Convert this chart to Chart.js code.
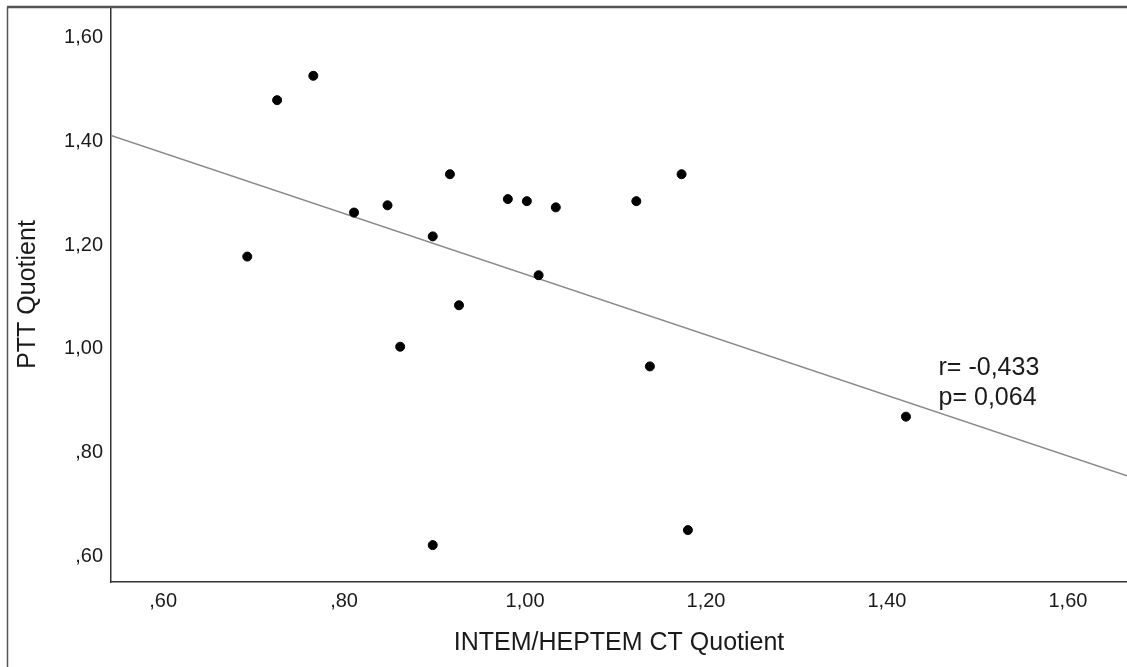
<!DOCTYPE html>
<html>
<head>
<meta charset="utf-8">
<script src="https://cdn.jsdelivr.net/npm/chart.js@4"></script>
<style>
  html, body { margin: 0; padding: 0; background: #fff; }
  #wrap { width: 1127px; height: 667px; position: relative; }
</style>
</head>
<body>
<div id="wrap"><canvas id="chart"></canvas></div>
<script>
// ── Data ──────────────────────────────────────────────
const intemHeptem = [0.693, 0.726, 0.766, 0.811, 0.848, 0.862, 0.898, 0.917, 0.927, 0.898,
                     0.981, 1.002, 1.015, 1.034, 1.123, 1.138, 1.173, 1.180, 1.421];
const pttQuotient = [1.178, 1.480, 1.527, 1.263, 1.277, 1.004, 1.217, 1.337, 1.084, 0.621,
                     1.289, 1.285, 1.142, 1.273, 1.285, 0.966, 1.337, 0.650, 0.869];
// fitted line, end points at the plot edges
const fitX = [0.5424, 1.6653];
const fitY = [1.412, 0.755];
const xTicks = [0.6, 0.8, 1.0, 1.2, 1.4, 1.6];
const yTicks = [0.6, 0.8, 1.0, 1.2, 1.4, 1.6];
const statLines = ["r= -0,433", "p= 0,064"];

const FONT = "'Liberation Sans', Arial, sans-serif";
const INK = "#1a1a1a";

// SPSS style: ",60" below one, "1,20" above
const fmt = v => {
  const s = v.toFixed(2).replace(".", ",");
  return s.startsWith("0") ? s.slice(1) : s;
};

// outer frame + r/p text
const extras = {
  id: "extras",
  afterDraw(chart) {
    const { ctx, scales: { x, y } } = chart;
    ctx.save();
    ctx.strokeStyle = "#555";
    ctx.lineWidth = 1.5;
    ctx.beginPath();
    ctx.moveTo(7.5, 7);
    ctx.lineTo(7.5, chart.height);
    ctx.stroke();
    ctx.lineWidth = 2.5;
    ctx.beginPath();
    ctx.moveTo(7, 7);
    ctx.lineTo(chart.width, 7);
    ctx.stroke();

    ctx.fillStyle = INK;
    ctx.font = "25px " + FONT;
    ctx.textAlign = "left";
    ctx.textBaseline = "alphabetic";
    const tx = x.getPixelForValue(1.457);
    ctx.fillText(statLines[0], tx, y.getPixelForValue(0.949));
    ctx.fillText(statLines[1], tx, y.getPixelForValue(0.891));
    ctx.restore();
  }
};

new Chart(document.getElementById("chart"), {
  type: "scatter",
  data: {
    datasets: [
      {
        label: "Fit",
        type: "line",
        data: fitX.map((v, i) => ({ x: v, y: fitY[i] })),
        borderColor: "#8a8a8a",
        borderWidth: 1.5,
        pointRadius: 0,
        fill: false,
        order: 2
      },
      {
        label: "Cases",
        data: intemHeptem.map((v, i) => ({ x: v, y: pttQuotient[i] })),
        backgroundColor: "#000",
        borderColor: "#000",
        pointRadius: 4.5,
        order: 1
      }
    ]
  },
  options: {
    responsive: true,
    maintainAspectRatio: false,
    animation: false,
    layout: { autoPadding: false, padding: { top: 7, right: 0, left: 0, bottom: 0 } },
    plugins: { legend: { display: false }, tooltip: { enabled: false } },
    scales: {
      x: {
        type: "linear",
        min: 0.5424, max: 1.6653,
        grid: { display: false, drawTicks: false },
        border: { display: true, color: "#333", width: 1.5 },
        afterBuildTicks: s => { s.ticks = xTicks.map(v => ({ value: v })); },
        afterFit: s => { s.height = 85; s.paddingLeft = 0; s.paddingRight = 0; },
        ticks: { color: INK, font: { family: FONT, size: 20 }, padding: 7, callback: fmt },
        title: { display: true, text: "INTEM/HEPTEM CT Quotient", color: INK,
                 font: { family: FONT, size: 25 }, padding: { top: 0, bottom: 9 } }
      },
      y: {
        type: "linear",
        min: 0.5498, max: 1.6598,
        grid: { display: false, drawTicks: false },
        border: { display: true, color: "#333", width: 1.5 },
        afterBuildTicks: s => { s.ticks = yTicks.map(v => ({ value: v })); },
        afterFit: s => { s.width = 111; s.paddingTop = 0; s.paddingBottom = 0; },
        ticks: { color: INK, font: { family: FONT, size: 20 }, padding: 8, callback: fmt },
        title: { display: true, text: "PTT Quotient", color: INK,
                 font: { family: FONT, size: 25 }, padding: { top: 13, bottom: 0 } }
      }
    }
  },
  plugins: [extras]
});
</script>
</body>
</html>
